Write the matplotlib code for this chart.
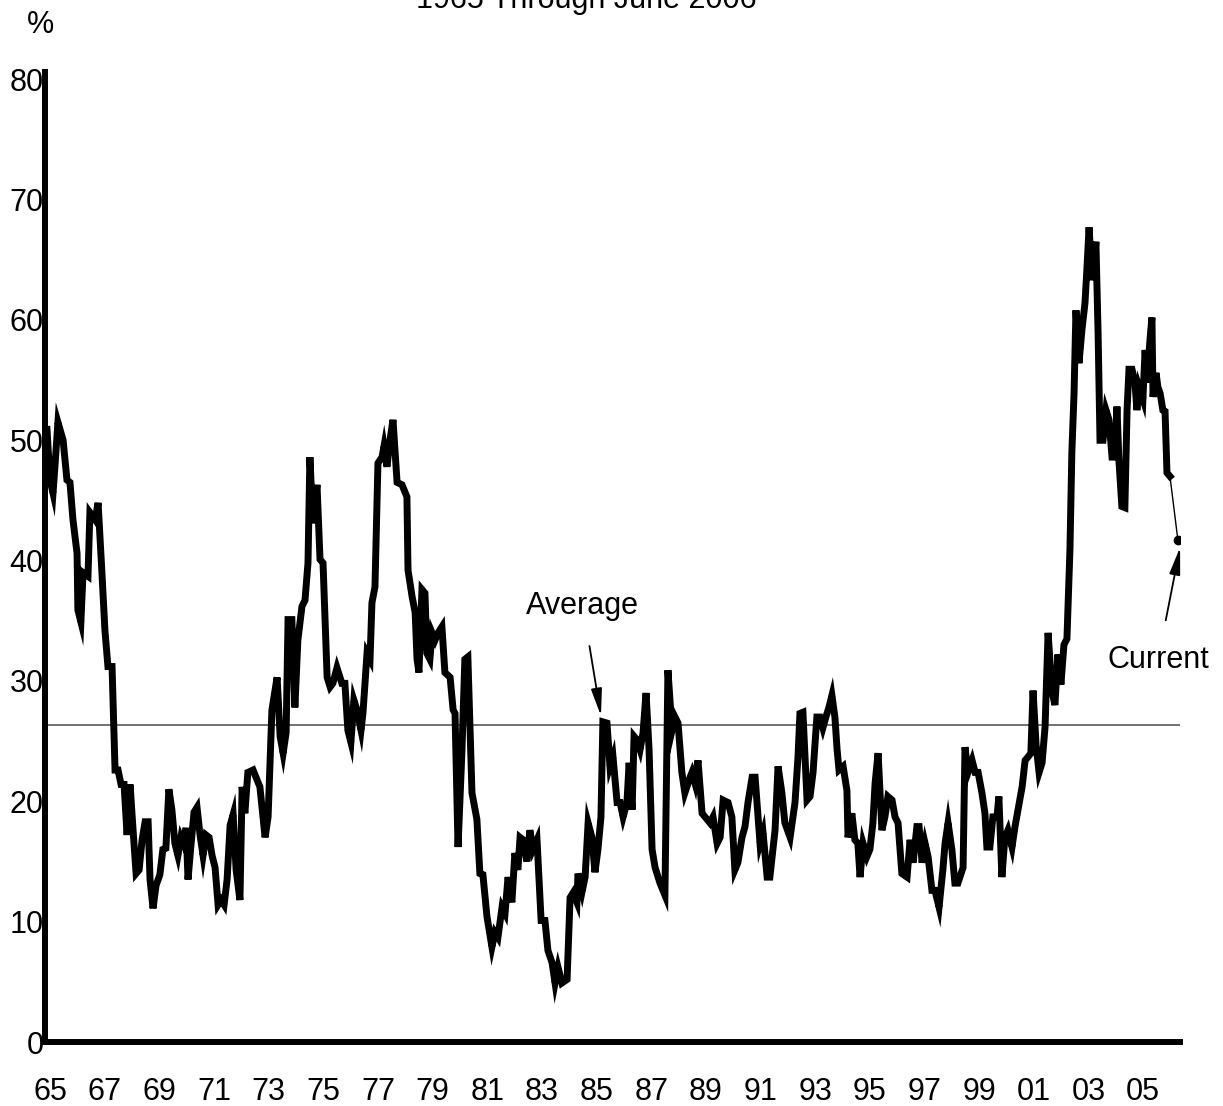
import matplotlib
matplotlib.use("Agg")
import matplotlib.pyplot as plt

plt.rcParams['font.family'] = ['Liberation Sans', 'DejaVu Sans']

# ---- data (decimal years, percent) ----
dates = [
    1965.00, 1965.11, 1965.22, 1965.29, 1965.40, 1965.59, 1965.73, 1965.84, 1965.95,
    1966.10, 1966.13, 1966.24, 1966.32, 1966.50, 1966.57, 1966.76, 1966.87,
    1967.01, 1967.12, 1967.23, 1967.38, 1967.49, 1967.60, 1967.71, 1967.82, 1967.93,
    1968.04, 1968.15, 1968.26, 1968.37, 1968.48, 1968.59, 1968.70, 1968.77, 1968.88, 1968.99,
    1969.13, 1969.24, 1969.35, 1969.46, 1969.57, 1969.68, 1969.79, 1969.90,
    1970.01, 1970.09, 1970.16, 1970.27, 1970.38, 1970.49, 1970.60, 1970.71, 1970.82, 1970.93,
    1971.04, 1971.15, 1971.26, 1971.37, 1971.48, 1971.59, 1971.70, 1971.81, 1971.92,
    1972.06, 1972.14, 1972.24, 1972.35, 1972.54, 1972.79, 1972.98,
    1973.09, 1973.23, 1973.42, 1973.53, 1973.64, 1973.75, 1973.82, 1973.96,
    1974.07, 1974.18, 1974.33, 1974.44, 1974.55, 1974.62, 1974.73, 1974.88, 1974.99,
    1975.10, 1975.25, 1975.36, 1975.46, 1975.61, 1975.79, 1975.90,
    1976.01, 1976.12, 1976.23, 1976.34, 1976.49, 1976.56, 1976.71, 1976.82, 1976.89,
    1977.00, 1977.11, 1977.26, 1977.33, 1977.44, 1977.55, 1977.66, 1977.81, 1977.99,
    1978.17, 1978.21, 1978.36, 1978.47, 1978.54, 1978.61, 1978.72, 1978.83, 1978.90,
    1979.01, 1979.09, 1979.20, 1979.31, 1979.45, 1979.56, 1979.75, 1979.86, 1979.93,
    1980.04, 1980.18, 1980.29, 1980.40, 1980.55, 1980.73, 1980.84, 1980.95,
    1981.10, 1981.28, 1981.39, 1981.50, 1981.65, 1981.76, 1981.87,
    1982.01, 1982.12, 1982.23, 1982.31, 1982.42, 1982.56, 1982.67, 1982.78, 1982.93,
    1983.08, 1983.22, 1983.33, 1983.48, 1983.59, 1983.70, 1983.84,
    1984.03, 1984.14, 1984.25, 1984.39, 1984.43, 1984.58, 1984.69, 1984.80, 1984.94,
    1985.05, 1985.16, 1985.27, 1985.34, 1985.49, 1985.60, 1985.71, 1985.86, 1985.97,
    1986.08, 1986.22, 1986.30, 1986.41, 1986.48, 1986.59, 1986.70, 1986.81, 1986.92,
    1987.03, 1987.14, 1987.25, 1987.43, 1987.61, 1987.72, 1987.87, 1987.98,
    1988.09, 1988.23, 1988.34, 1988.53, 1988.60, 1988.71, 1988.82, 1988.97,
    1989.08, 1989.26, 1989.37, 1989.52, 1989.63, 1989.74, 1989.92,
    1990.06, 1990.17, 1990.28, 1990.43, 1990.54, 1990.65, 1990.80, 1990.91,
    1991.09, 1991.20, 1991.35, 1991.45, 1991.64, 1991.75, 1991.89,
    1992.00, 1992.19, 1992.37, 1992.48, 1992.55, 1992.66, 1992.81, 1992.92,
    1993.03, 1993.17, 1993.28, 1993.39, 1993.50, 1993.61, 1993.72, 1993.83, 1993.91, 1993.98,
    1994.13, 1994.27, 1994.31, 1994.45, 1994.56, 1994.67, 1994.75, 1994.86,
    1995.00, 1995.11, 1995.22, 1995.30, 1995.41, 1995.55, 1995.66, 1995.77, 1995.92,
    1996.03, 1996.14, 1996.28, 1996.47, 1996.58, 1996.69, 1996.83, 1996.91,
    1997.02, 1997.13, 1997.24, 1997.38, 1997.49, 1997.64, 1997.78, 1997.86, 1997.97,
    1998.11, 1998.22, 1998.33, 1998.52, 1998.59, 1998.70, 1998.85, 1998.96,
    1999.07, 1999.21, 1999.32, 1999.39, 1999.50, 1999.61, 1999.76, 1999.83, 1999.94,
    2000.05, 2000.16, 2000.31, 2000.42, 2000.53, 2000.68, 2000.79, 2000.90,
    2001.00, 2001.08, 2001.19, 2001.30, 2001.41, 2001.52, 2001.63, 2001.77, 2001.88, 2001.99,
    2002.10, 2002.21, 2002.32, 2002.43, 2002.50, 2002.58, 2002.65, 2002.76, 2002.87, 2002.98,
    2003.05, 2003.13, 2003.24, 2003.31, 2003.38, 2003.46, 2003.53, 2003.64, 2003.75, 2003.86, 2003.97,
    2004.08, 2004.15, 2004.22, 2004.33, 2004.44, 2004.52, 2004.59, 2004.70, 2004.81, 2004.88, 2004.96,
    2005.10, 2005.18, 2005.25, 2005.36, 2005.43, 2005.47, 2005.58, 2005.65, 2005.73, 2005.83, 2005.91, 2005.98,
    2006.09,
]
values = [
    50.9, 46.7, 45.6, 47.8, 51.5, 50.0, 46.7, 46.5, 43.4,
    40.6, 35.9, 34.9, 39.0, 38.7, 44.0, 43.4, 44.8,
    39.0, 34.2, 31.2, 31.2, 22.6, 22.6, 21.4, 21.4, 17.2,
    21.4, 17.6, 14.0, 14.3, 16.8, 18.3, 18.3, 13.5, 11.1, 13.0,
    13.9, 16.0, 16.1, 21.0, 19.3, 16.5, 15.5, 17.0,
    16.4, 17.8, 13.5, 16.4, 19.1, 19.5, 17.2, 15.5, 17.2, 17.0,
    15.5, 14.5, 11.4, 11.8, 11.4, 13.5, 18.0, 18.9, 14.3,
    11.8, 21.2, 19.0, 22.4, 22.6, 21.2, 17.0,
    18.7, 27.6, 30.3, 25.4, 24.0, 25.7, 35.1, 35.1,
    27.8, 33.4, 36.2, 36.7, 39.8, 48.6, 43.1, 46.3, 40.1,
    39.8, 30.3, 29.5, 29.8, 31.1, 29.8, 29.8,
    25.9, 24.9, 28.4, 27.6, 25.9, 27.3, 32.3, 31.8, 36.5,
    37.8, 48.1, 48.6, 49.5, 47.8, 50.0, 51.7, 46.5, 46.3,
    45.3, 39.2, 37.0, 35.7, 31.8, 30.7, 37.6, 37.3, 32.3,
    31.8, 34.0, 33.4, 34.0, 34.5, 30.7, 30.3, 27.6, 27.3,
    16.2, 24.0, 31.8, 32.0, 20.7, 18.5, 14.0, 13.9,
    10.4, 7.9, 9.1, 8.7, 11.2, 10.7, 13.7,
    11.6, 15.7, 14.3, 17.0, 16.8, 15.0, 17.6, 16.0, 16.8,
    10.1, 10.1, 7.6, 6.6, 4.9, 6.2, 4.9,
    5.2, 12.0, 12.4, 11.6, 14.0, 12.5, 13.7, 18.2, 17.0,
    14.1, 16.0, 18.7, 26.6, 26.5, 22.9, 23.7, 19.9, 19.9,
    18.7, 19.9, 23.2, 19.3, 25.4, 25.1, 24.3, 25.7, 29.0,
    24.3, 16.0, 14.5, 13.2, 12.2, 30.9, 25.9, 27.0,
    26.5, 22.4, 20.7, 22.0, 22.4, 21.5, 23.4, 19.0,
    18.7, 18.2, 18.7, 16.5, 17.0, 20.1, 19.9,
    18.7, 14.3, 14.9, 17.0, 17.9, 19.9, 22.0, 22.0,
    16.5, 17.4, 13.7, 13.7, 17.6, 22.9, 20.7,
    18.2, 17.0, 19.9, 23.7, 27.3, 27.4, 20.1, 20.4,
    22.4, 27.0, 27.0, 26.1, 27.0, 27.8, 28.8, 27.0, 24.3, 22.6,
    22.9, 20.9, 17.0, 19.0, 16.8, 16.5, 13.7, 16.5,
    15.4, 16.0, 18.2, 21.5, 24.0, 17.6, 18.7, 20.4, 20.1,
    18.7, 18.2, 14.0, 13.7, 16.8, 14.9, 17.9, 17.9,
    14.9, 16.5, 15.4, 12.6, 12.6, 11.2, 14.3, 16.5, 18.2,
    16.0, 13.2, 13.2, 14.5, 24.5, 22.4, 23.4, 22.4,
    22.4, 20.7, 19.0, 16.2, 16.2, 18.7, 18.7, 20.4, 13.7,
    17.0, 17.6, 16.2, 17.9, 19.3, 21.2, 23.4, 23.7,
    24.0, 29.2, 24.7, 22.4, 23.2, 26.2, 34.0, 29.2, 28.0, 32.2,
    29.7, 33.0, 33.5, 40.9, 49.0, 53.9, 60.8, 56.4, 59.2, 61.4,
    64.2, 67.7, 63.3, 64.4, 66.5, 58.9, 50.0, 50.0, 52.5, 51.7, 48.6,
    48.6, 52.8, 48.4, 44.5, 44.4, 52.5, 55.9, 55.9, 54.8, 52.5, 54.4,
    53.4, 57.5, 54.8, 58.4, 60.2, 53.6, 55.6, 54.4, 53.9, 52.5, 52.4, 47.3,
    47.0,
]
current_date = 2006.38
current_value = 41.7
average_value = 26.3

year_ticks = list(range(1965, 2006, 2))
year_labels = ["%02d" % (y % 100) for y in year_ticks]
y_ticks = [0, 10, 20, 30, 40, 50, 60, 70, 80]

fig = plt.figure(figsize=(12.23, 11.06), dpi=100)
ax = fig.add_axes([45 / 1223, 1 - 1042 / 1106, (1180 - 45) / 1223, (1042 - 72) / 1106])

x0, x1 = 1964.927, 2006.457
ax.set_xlim(x0, x1)
ax.set_ylim(0, 80.6)

# average line
ax.plot([x0, x1], [average_value, average_value], color="#5a5a5a", lw=1.2, zorder=1)

# main series
ax.plot(dates, values, color="black", lw=5.0, solid_joinstyle="miter", zorder=3)
# thin connector to current value
ax.plot([dates[-1], current_date], [values[-1], current_value], color="black", lw=1.0, zorder=3)
ax.plot([current_date], [current_value], "o", color="black", ms=6, zorder=4)

fs = 22
arrow_kw = dict(arrowstyle="-|>,head_length=0.75,head_width=0.15", color="black",
                lw=1.3, mutation_scale=22, shrinkA=16, shrinkB=0)
ax.annotate("Average", xy=(1985.27, 27.1), xytext=(1984.61, 36.2),
            ha="center", va="center", fontsize=fs, arrowprops=arrow_kw)
ax.annotate("Current", xy=(2006.46, 41.1), xytext=(2005.65, 31.75),
            ha="center", va="center", fontsize=fs, annotation_clip=False,
            arrowprops=arrow_kw)

for s in ["top", "right"]:
    ax.spines[s].set_visible(False)
ax.spines["left"].set_linewidth(4.3)
ax.spines["bottom"].set_linewidth(4.3)

ax.set_xticks([y + 0.11 for y in year_ticks])
ax.set_xticklabels(year_labels, fontsize=fs)
ax.set_yticks(y_ticks)
ax.set_yticklabels([str(v) for v in y_ticks], fontsize=fs)
ax.tick_params(axis="x", length=0, pad=25)
ax.tick_params(axis="y", length=0, pad=1)

fig.text(41 / 1223, 1 - 25 / 1106, "%", ha="center", va="center", fontsize=fs)
fig.text(586 / 1223, 1 - 8 / 1106, "1965 Through June 2006", ha="center", va="baseline", fontsize=fs)

fig.savefig("out.png", dpi=100)
